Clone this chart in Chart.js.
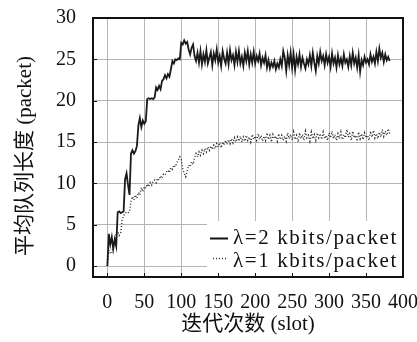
<!DOCTYPE html>
<html>
<head>
<meta charset="utf-8">
<script src="https://cdn.jsdelivr.net/npm/chart.js@4.4.1/dist/chart.umd.min.js"></script>
<style>
html, body { margin: 0; padding: 0; background: #fff; }
</style>
</head>
<body>
<canvas id="chart" width="417" height="342"></canvas>
<script>
// slot numbers (x) sampled every 2 slots
const slots = [
  0,2,4,6,8,10,12,14,16,18,20,22,24,26,28,30,32,34,36,38,
  40,42,44,46,48,50,52,54,56,58,60,62,64,66,68,70,72,74,76,78,
  80,82,84,86,88,90,92,94,96,98,100,102,104,106,108,110,112,114,116,118,
  120,122,124,126,128,130,132,134,136,138,140,142,144,146,148,150,152,154,156,158,
  160,162,164,166,168,170,172,174,176,178,180,182,184,186,188,190,192,194,196,198,
  200,202,204,206,208,210,212,214,216,218,220,222,224,226,228,230,232,234,236,238,
  240,242,244,246,248,250,252,254,256,258,260,262,264,266,268,270,272,274,276,278,
  280,282,284,286,288,290,292,294,296,298,300,302,304,306,308,310,312,314,316,318,
  320,322,324,326,328,330,332,334,336,338,340,342,344,346,348,350,352,354,356,358,
  360,362,364,366,368,370,372,374,376,378,380,382
];

// average queue length, lambda = 2 kbits/packet
const queueLam2 = [
  0, 3.9, 2.6, 3.5, 2.1, 3.2, 2.4, 6.5, 6.6, 6.4,
  6.5, 6.6, 10.5, 11.2, 9.8, 8.6, 13.6, 14.0, 13.6, 13.9,
  14.5, 17.0, 17.9, 16.8, 17.6, 17.2, 17.5, 20.2, 20.3, 20.2,
  20.3, 20.2, 20.4, 21.6, 21.3, 21.8, 21.4, 22.4, 22.6, 23.1,
  22.7, 23.2, 22.9, 23.8, 24.8, 24.5, 25.0, 24.9, 25.1, 25.0,
  27.0, 26.8, 27.3, 26.9, 27.1, 26.2, 25.6, 26.4, 26.8, 25.4,
  24.8, 25.8, 24.6, 26.0, 24.4, 25.6, 24.7, 26.1, 24.5, 25.2,
  25.9, 24.3, 25.7, 24.9, 26.2, 24.6, 25.4, 24.2, 26.0, 25.1,
  24.5, 25.8, 24.4, 26.1, 24.9, 25.5, 24.3, 25.9, 24.7, 26.0,
  24.5, 25.3, 24.2, 25.8, 24.8, 26.0, 24.4, 25.6, 24.6, 25.9,
  24.5, 25.4, 24.8, 25.7, 24.3, 25.2, 24.6, 25.5, 24.0, 24.9,
  23.9, 24.6, 24.1, 24.8, 23.8, 24.5, 24.0, 25.0, 24.2, 26.0,
  25.2, 23.6, 25.5, 24.3, 25.8, 24.0, 25.6, 23.7, 25.3, 24.4,
  25.6, 24.1, 25.2, 24.5, 23.9, 25.0, 24.4, 25.5, 24.2, 25.8,
  24.6, 23.6, 25.4, 24.5, 25.9, 24.8, 25.4, 24.3, 25.6, 24.6,
  25.3, 24.1, 25.7, 24.5, 25.2, 24.0, 25.5, 24.4, 25.1, 24.2,
  25.6, 24.6, 25.0, 24.1, 25.4, 24.3, 25.8, 24.5, 25.2, 24.0,
  25.5, 23.5, 24.9, 24.3, 25.3, 24.6, 25.0, 24.4, 25.6, 24.7,
  25.3, 24.5, 25.9, 24.8, 26.3, 25.2, 25.8, 24.7, 25.6, 24.9,
  25.3, 24.8
];

// average queue length, lambda = 1 kbits/packet
const queueLam1 = [
  0, 1.9, 1.6, 1.5, 2.4, 3.0, 4.0, 4.2, 3.7, 4.0,
  5.5, 6.1, 6.4, 6.5, 6.4, 6.6, 7.8, 8.4, 8.0, 8.6,
  8.2, 8.9, 8.6, 9.5, 9.0, 9.6, 9.4, 9.9, 9.6, 10.1,
  9.8, 10.3, 10.4, 10.1, 10.6, 10.4, 10.9, 10.6, 11.1, 11.0,
  11.4, 11.6, 11.3, 11.9, 11.7, 12.2, 12.0, 12.5, 12.8, 13.2,
  12.9, 11.8, 11.2, 10.8, 11.5, 12.2, 12.0, 12.6, 12.3, 13.1,
  13.6, 13.2, 13.8, 13.4, 14.0, 13.6, 14.2, 13.8, 14.4, 14.0,
  14.5, 14.1, 14.6, 14.2, 14.8, 14.4, 14.9, 14.3, 15.0, 14.6,
  15.2, 14.7, 15.3, 14.8, 15.4, 14.9, 15.5, 15.0, 15.6, 15.1,
  15.7, 15.0, 15.6, 15.1, 15.8, 15.2, 15.6, 15.0, 15.9, 15.3,
  15.7, 15.2, 16.0, 15.3, 15.8, 15.1, 15.7, 15.2, 16.1, 15.3,
  15.8, 15.0, 15.9, 15.4, 15.7, 15.1, 16.0, 15.3, 15.8, 15.2,
  15.7, 15.1, 16.1, 15.4, 15.9, 15.2, 16.2, 15.3, 15.8, 15.0,
  16.1, 15.4, 15.9, 15.2, 16.3, 15.5, 15.8, 15.1, 16.2, 15.4,
  15.9, 15.2, 16.1, 15.5, 16.0, 15.3, 16.2, 15.4, 15.8, 15.2,
  16.1, 15.5, 16.3, 15.4, 15.9, 15.2, 16.0, 15.4, 16.2, 15.3,
  15.9, 15.5, 16.5, 15.6, 16.0, 15.2, 16.3, 15.5, 15.8, 15.1,
  16.2, 15.4, 16.0, 15.3, 16.1, 15.5, 15.8, 15.2, 16.3, 15.6,
  16.4, 15.5, 16.0, 15.4, 16.2, 15.6, 16.5, 15.7, 16.3, 15.8,
  16.6, 16.0
];

const xTicks = [0, 50, 100, 150, 200, 250, 300, 350, 400];
const yTicks = [0, 5, 10, 15, 20, 25, 30];
const seriesLabels = ["λ=2 kbits/packet", "λ=1 kbits/packet"];
const xTitle = "迭代次数 (slot)";
const yTitle = "平均队列长度 (packet)";

const FONT = "'Liberation Serif', 'Noto Sans CJK SC', serif";

function toPoints(ys) {
  return ys.map((y, i) => ({ x: slots[i], y: y }));
}

// box, inner ticks, y title and the legend in the lower right corner
const framePlugin = {
  id: "frame",
  afterDatasetsDraw(chart) {
    const ctx = chart.ctx;
    const a = chart.chartArea;
    const xs = chart.scales.x;
    const ys = chart.scales.y;
    ctx.save();

    // legend
    ctx.fillStyle = "#fff";
    ctx.fillRect(207, 221, a.right - 207, a.bottom - 221);
    ctx.strokeStyle = "#111";
    ctx.lineWidth = 2;
    ctx.setLineDash([]);
    ctx.beginPath();
    ctx.moveTo(210, 238.5);
    ctx.lineTo(228, 238.5);
    ctx.stroke();
    ctx.strokeStyle = "#333";
    ctx.lineWidth = 1.4;
    ctx.setLineDash([1, 2]);
    ctx.beginPath();
    ctx.moveTo(213, 258.5);
    ctx.lineTo(228, 258.5);
    ctx.stroke();
    ctx.setLineDash([]);
    ctx.fillStyle = "#111";
    ctx.font = "21px " + FONT;
    ctx.letterSpacing = "1.6px";
    ctx.textAlign = "left";
    ctx.textBaseline = "middle";
    ctx.fillText(chart.data.datasets[0].label, 233, 238);
    ctx.fillText(chart.data.datasets[1].label, 233, 261);
    ctx.letterSpacing = "0px";

    // y axis title
    ctx.save();
    ctx.translate(25, 156);
    ctx.rotate(-Math.PI / 2);
    ctx.textAlign = "center";
    ctx.font = "21px " + FONT;
    ctx.fillText(yTitle, 0, 0);
    ctx.restore();

    // inner tick marks
    ctx.strokeStyle = "#111";
    ctx.lineWidth = 1;
    ctx.beginPath();
    yTicks.forEach(v => {
      const py = Math.round(ys.getPixelForValue(v)) + 0.5;
      ctx.moveTo(a.left, py);
      ctx.lineTo(a.left + 4, py);
    });
    xTicks.forEach(v => {
      const px = Math.round(xs.getPixelForValue(v)) + 0.5;
      ctx.moveTo(px, a.bottom);
      ctx.lineTo(px, a.bottom - 4);
    });
    ctx.stroke();

    // frame
    ctx.lineWidth = 2;
    ctx.strokeRect(a.left, a.top, a.right - a.left, a.bottom - a.top);
    ctx.restore();
  }
};

new Chart(document.getElementById("chart"), {
  type: "line",
  data: {
    datasets: [
      {
        label: seriesLabels[0],
        data: toPoints(queueLam2),
        borderColor: "#1a1a1a",
        borderWidth: 1.8,
        pointRadius: 0,
        tension: 0
      },
      {
        label: seriesLabels[1],
        data: toPoints(queueLam1),
        borderColor: "#2a2a2a",
        borderWidth: 1.4,
        borderDash: [1, 2],
        pointRadius: 0,
        tension: 0
      }
    ]
  },
  options: {
    responsive: false,
    animation: false,
    devicePixelRatio: 1,
    layout: { padding: { top: 18, right: 14, left: 0, bottom: 0 } },
    plugins: {
      legend: { display: false },
      tooltip: { enabled: false }
    },
    scales: {
      x: {
        type: "linear",
        min: -19.4,
        max: 400,
        afterBuildTicks: s => { s.ticks = xTicks.map(v => ({ value: v })); },
        afterFit: s => { s.height = 65; s.paddingLeft = 0; s.paddingRight = 0; },
        grid: { color: "#b5b5b5", lineWidth: 1, drawTicks: false },
        border: { display: false },
        ticks: { padding: 14, color: "#111", font: { family: FONT, size: 20 }, maxRotation: 0 },
        title: { display: true, text: xTitle, color: "#111", font: { family: FONT, size: 21 }, padding: { top: 0, bottom: 5 } }
      },
      y: {
        min: -1.33,
        max: 30,
        afterBuildTicks: s => { s.ticks = yTicks.map(v => ({ value: v })); },
        afterFit: s => { s.width = 93; s.paddingTop = 0; s.paddingBottom = 0; },
        grid: { color: "#b5b5b5", lineWidth: 1, drawTicks: false },
        border: { display: false },
        ticks: { padding: 17, color: "#111", font: { family: FONT, size: 20 } },
        title: { display: false }
      }
    }
  },
  plugins: [framePlugin]
});
</script>
</body>
</html>
